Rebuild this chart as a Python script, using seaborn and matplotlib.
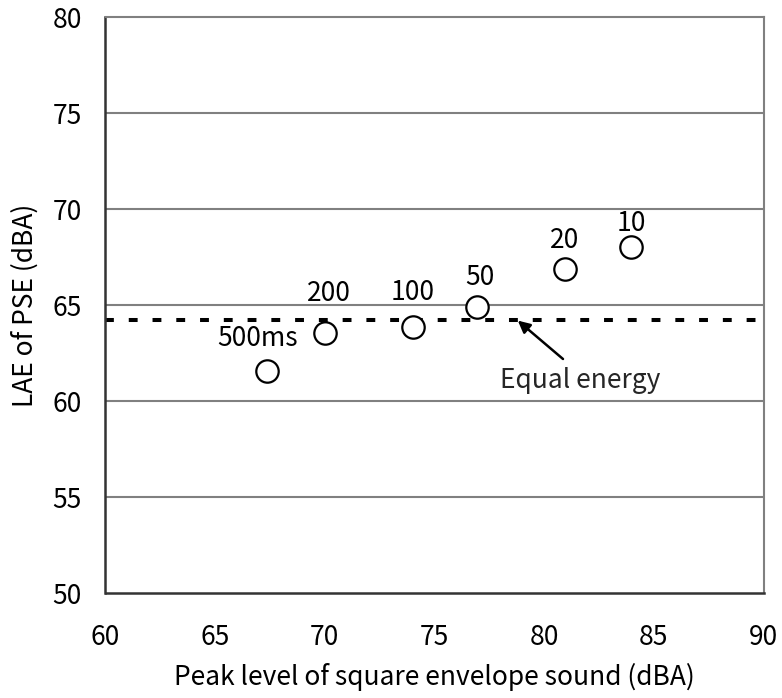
import matplotlib
matplotlib.use("Agg")
import matplotlib.pyplot as plt
import seaborn as sns
import pandas as pd

# Data
durations = ["500ms", "200", "100", "50", "20", "10"]
peak_level = [67.35, 70.0, 74.0, 76.95, 80.95, 83.95]
lae_pse = [61.6, 63.55, 63.85, 64.93, 66.89, 68.05]
equal_energy = 64.25
x_ticks = [60, 65, 70, 75, 80, 85, 90]
y_ticks = [50, 55, 60, 65, 70, 75, 80]

# label offsets in pixels (dx, dy-up) for each point label
label_offsets = [(-9, 32), (4, 40), (0, 35), (3, 29), (0, 29), (1, 23)]

sns.set_theme(style="white")
plt.rcParams['font.family'] = ['Noto Sans CJK JP', 'DejaVu Sans']

FS = 19

df = pd.DataFrame({"peak": peak_level, "lae": lae_pse, "dur": durations})

fig = plt.figure(figsize=(7.82, 6.98), dpi=100)
ax = fig.add_axes([105.5/782, 1 - 593.3/698, (763.5-105.5)/782, (593.3-17.3)/698])

ax.set_xlim(60, 90)
ax.set_ylim(50, 80)

# gridlines
for yv in y_ticks[1:-1]:
    ax.axhline(yv, color="#808080", lw=1.5, zorder=1)

# equal energy dashed line
ax.axhline(equal_energy, color="black", lw=2.9, linestyle=(0, (2.2, 3.7)), zorder=2)

sns.scatterplot(data=df, x="peak", y="lae", ax=ax, s=260, facecolor="white",
                edgecolor="black", linewidth=1.6, zorder=3, legend=False)

px2pt = 0.72
for (xv, yv, lab), (dx, dy) in zip(zip(peak_level, lae_pse, durations), label_offsets):
    ax.annotate(lab, (xv, yv), xytext=(dx*px2pt, dy*px2pt), textcoords="offset points",
                ha="center", va="center", fontsize=FS, color="black")

ax.annotate("", xy=(78.75, equal_energy), xytext=(563/782, 1-359/698),
            textcoords="figure fraction",
            arrowprops=dict(arrowstyle="-|>", color="black", lw=1.8, mutation_scale=18,
                            shrinkA=0, shrinkB=1))
fig.text(580/782, 1-381/698, "Equal energy", ha="center", va="center", fontsize=FS)

ax.set_xticks(x_ticks)
ax.set_yticks(y_ticks)
ax.tick_params(axis="both", direction="in", length=8, width=1.5, color="#333333",
               labelsize=FS, labelcolor="black")
ax.tick_params(axis="x", pad=22)
ax.tick_params(axis="y", pad=17)

for side in ["left", "bottom"]:
    ax.spines[side].set_color("#333333")
    ax.spines[side].set_linewidth(1.8)
for side in ["top", "right"]:
    ax.spines[side].set_color("#808080")
    ax.spines[side].set_linewidth(1.5)

ax.set_xlabel("Peak level of square envelope sound (dBA)", fontsize=FS, labelpad=9, color="black")
ax.set_ylabel("LAE of PSE (dBA)", fontsize=FS, labelpad=10, color="black")

fig.savefig("out.png", dpi=100)
